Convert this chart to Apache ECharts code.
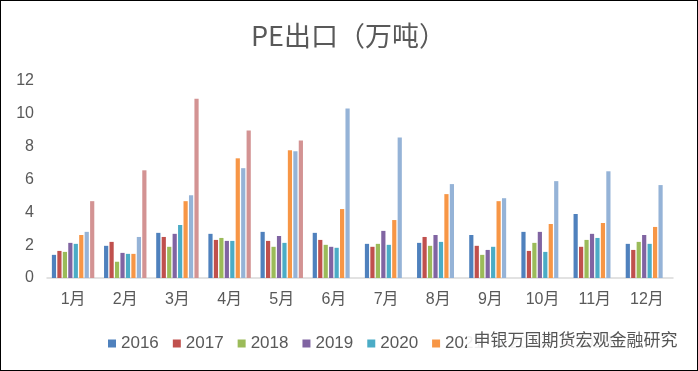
<!DOCTYPE html>
<html><head><meta charset="utf-8">
<script src="https://cdn.jsdelivr.net/npm/echarts@6/dist/echarts.min.js"></script>
<style>html,body{margin:0;padding:0;background:#fff}#c{width:698px;height:371px;box-sizing:border-box;border:1px solid #000}</style>
</head><body><div id="c"></div>
<script>
const categories = ['1月','2月','3月','4月','5月','6月','7月','8月','9月','10月','11月','12月'];
const years = ['2016','2017','2018','2019','2020','2021','2022','2023'];
const s2016 = [1.41,1.96,2.75,2.69,2.81,2.75,2.08,2.14,2.62,2.81,3.90,2.08];
const s2017 = [1.65,2.20,2.50,2.32,2.26,2.32,1.90,2.50,1.96,1.65,1.90,1.71];
const s2018 = [1.59,0.99,1.90,2.44,1.90,2.02,2.08,1.96,1.41,2.14,2.32,2.20];
const s2019 = [2.14,1.53,2.69,2.26,2.56,1.90,2.87,2.62,1.71,2.81,2.69,2.62];
const s2020 = [2.08,1.47,3.23,2.26,2.14,1.84,2.02,2.20,1.90,1.59,2.44,2.08];
const s2021 = [2.62,1.47,4.68,7.29,7.78,4.20,3.53,5.11,4.68,3.29,3.35,3.11];
const s2022 = [2.81,2.50,5.04,6.69,7.72,10.32,8.56,5.72,4.86,5.90,6.50,5.66];
const s2023 = [4.68,6.56,10.92,8.99,8.38,null,null,null,null,null,null,null];
const seriesData = [s2016,s2017,s2018,s2019,s2020,s2021,s2022,s2023];
const colors = ['#4F81BD','#C0504D','#9BBB59','#8064A2','#4BACC6','#F79646','#95B3D7','#D39393'];
const yTicks = [0,2,4,6,8,10,12];
const watermark = '申银万国期货宏观金融研究';
const font = "'Liberation Sans','Noto Sans CJK SC',sans-serif";
const chart = echarts.init(document.getElementById('c'));
chart.setOption({
  animation:false,
  color:colors,
  textStyle:{fontFamily:font},
  title:{text:'PE出口（万吨）',left:245,top:16,textStyle:{fontFamily:"'Noto Sans CJK SC',sans-serif",fontSize:27,fontWeight:'normal',color:'#595959'}},
  grid:{left:46,right:24,top:80,bottom:92,containLabel:false},
  legend:{data:years,left:102,top:329,itemWidth:8,itemHeight:8,itemGap:14,icon:'rect',
    textStyle:{fontFamily:font,fontSize:17,color:'#595959'}},
  xAxis:{type:'category',data:categories,axisTick:{show:false},
    axisLine:{lineStyle:{color:'#d9d9d9',width:1.5}},
    axisLabel:{fontFamily:font,fontSize:16,color:'#595959',margin:14}},
  yAxis:{type:'value',min:yTicks[0],max:yTicks[yTicks.length-1],interval:2,
    splitLine:{show:false},axisLine:{show:false},axisTick:{show:false},
    axisLabel:{fontFamily:font,fontSize:16,color:'#595959',margin:13}},
  series:seriesData.map((d,i)=>({name:years[i],type:'bar',data:d,barWidth:4.2,barGap:'30%'})),
  graphic:[
    {type:'rect',left:466,top:330,shape:{width:214,height:22},style:{fill:'rgba(255,255,255,0.9)'},z:100},
    {type:'text',left:472,top:330,z:101,style:{text:watermark,font:"17px 'Noto Sans CJK SC'",fill:'#555',stroke:'#fff',lineWidth:1}}
  ]
});
</script></body></html>
